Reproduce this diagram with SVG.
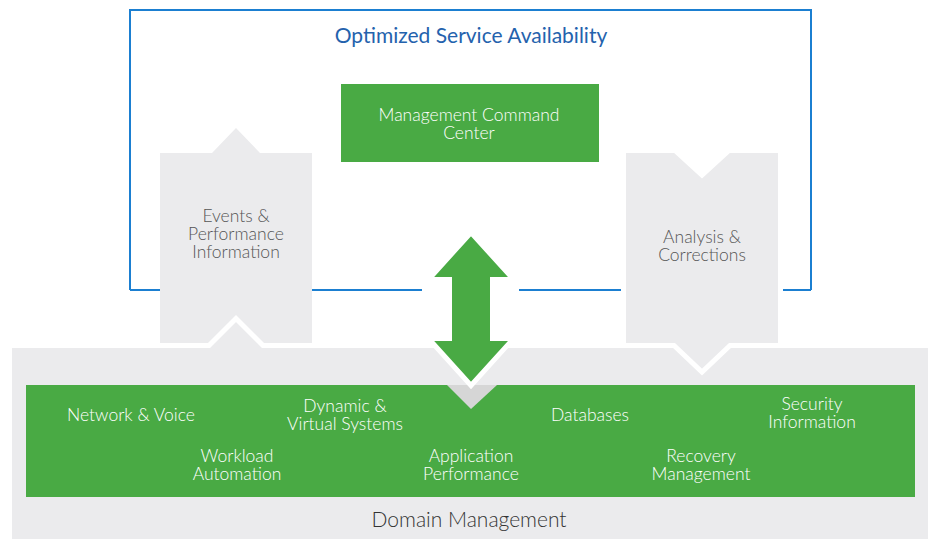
<svg xmlns="http://www.w3.org/2000/svg" width="928" height="539" viewBox="0 0 928 539">
  <style>
    .t { font-family: Lato, "Open Sans", "Liberation Sans", sans-serif; font-size: 17.5px; font-weight: 300; text-anchor: middle; }
    .w { fill: #ffffff; }
    .g { fill: #555555; }
    .blue { stroke: #1b7fd1; stroke-width: 2; fill: none; }
    .panel { fill: #ebebed; }
    .green { fill: #49aa44; }
    .cut { stroke: #ffffff; stroke-width: 5; stroke-linejoin: miter; }
  </style>
  <rect width="928" height="539" fill="#ffffff"/>

  <!-- Outer service frame -->
  <g id="service-frame">
    <path class="blue" d="M130,290 V10 H811 V290"/>
    <line class="blue" x1="130" y1="290" x2="161" y2="290"/>
    <line class="blue" x1="311" y1="290" x2="422" y2="290"/>
    <line class="blue" x1="519" y1="290" x2="627" y2="290"/>
    <line class="blue" x1="777" y1="290" x2="811" y2="290"/>
    <text x="471" y="43" style="font-family: Lato, 'Open Sans', 'Liberation Sans', sans-serif; font-size: 21px; text-anchor: middle; fill: #2462ad;">Optimized Service Availability</text>
  </g>

  <!-- Management command center -->
  <g id="command-center">
    <rect class="green" x="341" y="84" width="258" height="78"/>
    <text class="t w" x="469" y="121">Management Command</text>
    <text class="t w" x="469" y="139">Center</text>
  </g>

  <!-- Events & performance (points up) -->
  <g id="events">
    <path class="panel" d="M160,153 H212 L236,128 L260,153 H312 V343 H160 Z"/>
    <text class="t g" x="236" y="222">Events &amp;</text>
    <text class="t g" x="236" y="240">Performance</text>
    <text class="t g" x="236" y="258">Information</text>
  </g>

  <!-- Domain management panel -->
  <g id="domain">
    <path class="panel cut" d="M9.5,345.5 H209 L236,318.5 L263,345.5 H931 V542 H9.5 Z"/>
    <rect class="green" x="26" y="385" width="889" height="112"/>
    <path d="M447,385 H497 L471,409 Z" fill="#d6d6d6"/>
    <text class="t w" x="131" y="421">Network &amp; Voice</text>
    <text class="t w" x="345" y="412">Dynamic &amp;</text>
    <text class="t w" x="345" y="430">Virtual Systems</text>
    <text class="t w" x="237" y="462">Workload</text>
    <text class="t w" x="237" y="480">Automation</text>
    <text class="t w" x="471" y="462">Application</text>
    <text class="t w" x="471" y="480">Performance</text>
    <text class="t w" x="590" y="421">Databases</text>
    <text class="t w" x="701" y="462">Recovery</text>
    <text class="t w" x="701" y="480">Management</text>
    <text class="t w" x="812" y="410">Security</text>
    <text class="t w" x="812" y="428">Information</text>
    <text x="469" y="527" style="font-family: Lato, 'Open Sans', 'Liberation Sans', sans-serif; font-size: 21px; font-weight: 300; text-anchor: middle; fill: #333333;">Domain Management</text>
  </g>

  <!-- Analysis & corrections (points down) -->
  <g id="analysis">
    <path class="panel cut" d="M623.5,150.5 H675 L702,175 L729,150.5 H780.5 V345.5 H730 L702,372 L674,345.5 H623.5 Z"/>
    <text class="t g" x="702" y="243">Analysis &amp;</text>
    <text class="t g" x="702" y="261">Corrections</text>
  </g>

  <!-- Bidirectional link between command center and domains -->
  <g id="connectors">
    <path class="green cut" d="M471,232.5 L513.5,279.5 H492.5 V338.5 H513.5 L471,385.5 L428.5,338.5 H449.5 V279.5 H428.5 Z"/>
  </g>
</svg>
